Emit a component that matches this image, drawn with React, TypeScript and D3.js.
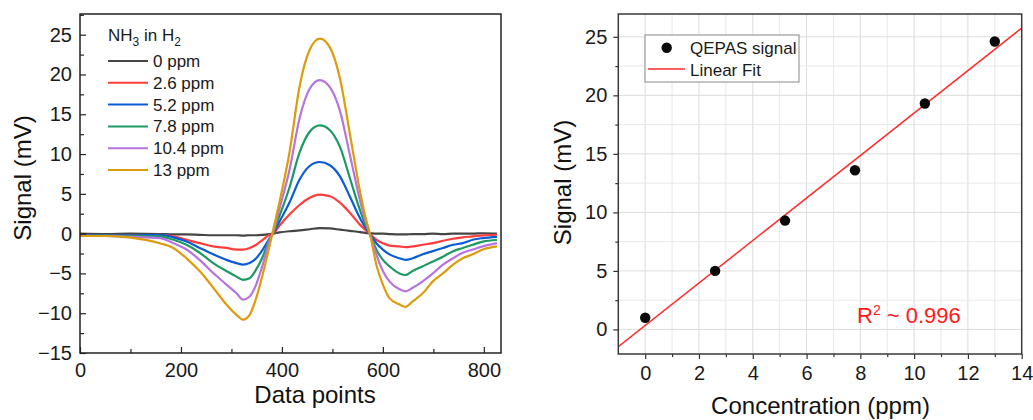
import { useEffect, useRef } from 'react'
import * as d3 from 'd3'

const FONT = '"Liberation Sans", Arial, Helvetica, sans-serif'

// sample positions along the scan (data point index)
const scanPoints = [0, 50, 100, 158, 185, 211, 237, 264, 290, 310, 323, 336, 349, 362, 376, 382, 395, 415, 435, 455, 475, 495, 515, 535, 555, 565, 575, 587, 600, 613, 633, 645, 659, 679, 699, 719, 739, 758, 778, 798, 826]

const sig0 = [0.0, -0.05, 0.0, -0.05, -0.1, -0.1, -0.15, -0.2, -0.2, -0.2, -0.25, -0.2, -0.2, -0.15, -0.05, 0.0, 0.15, 0.3, 0.4, 0.55, 0.7, 0.65, 0.5, 0.35, 0.2, 0.1, 0.05, 0.0, 0.0, -0.05, -0.1, -0.1, -0.05, -0.05, 0.0, -0.05, 0.0, 0.0, 0.0, 0.05, 0.0]
const sig26 = [-0.2, -0.2, -0.2, -0.14, -0.35, -0.77, -1.2, -1.6, -1.8, -2.0, -2.0, -1.8, -1.4, -0.77, -0.14, -0.05, 1.0, 2.4, 3.6, 4.5, 4.9, 4.7, 3.9, 2.6, 1.1, 0.5, -0.1, -0.77, -1.2, -1.5, -1.6, -1.7, -1.6, -1.4, -1.2, -0.9, -0.64, -0.47, -0.35, -0.22, -0.14]
const sig52 = [-0.2, -0.2, -0.2, -0.14, -0.47, -1.0, -1.8, -2.6, -3.3, -3.7, -3.9, -3.7, -3.1, -2.0, -0.56, -0.05, 1.5, 3.9, 6.8, 8.5, 9.0, 8.6, 7.2, 4.6, 1.9, 0.8, -0.1, -1.2, -2.0, -2.6, -3.1, -3.3, -3.1, -2.6, -2.2, -1.8, -1.4, -1.2, -0.77, -0.56, -0.4]
const sig78 = [-0.3, -0.25, -0.3, -0.35, -0.77, -1.4, -2.4, -3.7, -4.7, -5.4, -5.8, -5.6, -4.5, -2.9, -0.56, 0.0, 2.2, 5.8, 10.2, 12.8, 13.6, 13.0, 10.9, 6.9, 2.9, 1.2, -0.15, -2.0, -3.3, -4.1, -5.0, -5.2, -4.7, -4.1, -3.5, -2.9, -2.2, -1.8, -1.4, -1.0, -0.8]
const sig104 = [-0.3, -0.3, -0.4, -0.56, -1.2, -2.0, -3.3, -4.95, -6.4, -7.5, -8.3, -7.9, -6.4, -3.9, -0.8, 0.1, 3.1, 8.0, 14.5, 18.2, 19.3, 18.4, 15.4, 9.8, 4.1, 1.7, -0.2, -2.6, -4.7, -6.0, -7.0, -7.25, -6.8, -6.0, -5.0, -3.9, -3.1, -2.4, -2.0, -1.6, -1.2]
const sig13 = [-0.3, -0.3, -0.5, -1.2, -1.8, -3.1, -4.7, -6.8, -8.9, -10.2, -10.8, -10.2, -8.1, -5.1, -1.4, 0.3, 3.9, 10.2, 18.5, 23.1, 24.5, 23.4, 19.5, 12.4, 5.2, 2.2, -0.2, -3.9, -6.4, -8.1, -8.9, -9.2, -8.5, -7.5, -6.0, -5.0, -3.9, -3.1, -2.6, -2.0, -1.6]

const traceLabels = ['0 ppm', '2.6 ppm', '5.2 ppm', '7.8 ppm', '10.4 ppm', '13 ppm']
const traceColors = ['#454545', '#ff3b3b', '#0a5cd6', '#1c9a62', '#b574e0', '#dc9c0c']
const traces = [sig0, sig26, sig52, sig78, sig104, sig13]

// right panel
const concentration = [0, 2.6, 5.2, 7.8, 10.4, 13]
const qepasSignal = [1.0, 5.0, 9.3, 13.6, 19.3, 24.6]

function styleAxis(ax, color = '#222') {
  ax.select('.domain').remove()
  ax.selectAll('line').attr('stroke', color).attr('stroke-width', 1.2)
  ax.selectAll('text').attr('fill', '#1a1a1a').attr('font-size', 20).attr('font-family', FONT)
}

function ScanPanel() {
  const ref = useRef(null)

  useEffect(() => {
    const g = d3.select(ref.current)
    g.selectAll('*').remove()

    const x = d3.scaleLinear().domain([0, 834]).range([80, 501])
    const y = d3.scaleLinear().domain([-15, 27.6]).range([353, 14])

    // traces
    const line = d3.line().x(d => x(d[0])).y(d => y(d[1])).curve(d3.curveMonotoneX)
    traces.forEach((vals, i) => {
      g.append('path')
        .datum(scanPoints.map((p, k) => [p, vals[k]]))
        .attr('d', line)
        .attr('fill', 'none')
        .attr('stroke', traceColors[i])
        .attr('stroke-width', 2.2)
        .attr('stroke-linejoin', 'round')
    })

    // axes, ticks inward
    g.append('g').attr('transform', 'translate(0,353)')
      .call(d3.axisBottom(x).tickValues([0, 200, 400, 600, 800]).tickSize(-6).tickPadding(10))
      .call(ax => styleAxis(ax))
    g.append('g').attr('transform', 'translate(0,353)')
      .call(d3.axisBottom(x).tickValues([100, 300, 500, 700]).tickSize(-4).tickFormat(() => ''))
      .call(ax => styleAxis(ax))
    g.append('g').attr('transform', 'translate(80,0)')
      .call(d3.axisLeft(y).tickValues(d3.range(-15, 26, 5)).tickSize(-6).tickPadding(8))
      .call(ax => styleAxis(ax))
    g.append('g').attr('transform', 'translate(80,0)')
      .call(d3.axisLeft(y).tickValues(d3.range(-12.5, 27.6, 5)).tickSize(-4).tickFormat(() => ''))
      .call(ax => styleAxis(ax))

    g.append('rect').attr('x', 80).attr('y', 14).attr('width', 421).attr('height', 339)
      .attr('fill', 'none').attr('stroke', '#222').attr('stroke-width', 1.5)

    // legend
    const title = g.append('text').attr('x', 108).attr('y', 41)
      .attr('font-size', 17).attr('font-family', FONT).attr('fill', '#1a1a1a')
    title.append('tspan').text('NH')
    title.append('tspan').text('3').attr('font-size', 12).attr('dy', 5)
    title.append('tspan').text(' in H').attr('dy', -5)
    title.append('tspan').text('2').attr('font-size', 12).attr('dy', 5)

    traceLabels.forEach((lab, i) => {
      const cy = 61 + i * 21.8
      g.append('line').attr('x1', 108).attr('x2', 148).attr('y1', cy).attr('y2', cy)
        .attr('stroke', traceColors[i]).attr('stroke-width', 2)
      g.append('text').attr('x', 153).attr('y', cy + 6)
        .attr('font-size', 17).attr('font-family', FONT).attr('fill', '#1a1a1a')
        .text(lab)
    })

    // axis titles
    g.append('text').attr('x', 315).attr('y', 403).attr('text-anchor', 'middle')
      .attr('font-size', 24).attr('font-family', FONT).attr('fill', '#111')
      .text('Data points')
    g.append('text').attr('transform', 'translate(30.5,178) rotate(-90)').attr('text-anchor', 'middle')
      .attr('font-size', 24).attr('font-family', FONT).attr('fill', '#111')
      .text('Signal (mV)')
  }, [])

  return <g ref={ref} />
}

function CalibrationPanel() {
  const ref = useRef(null)

  useEffect(() => {
    const g = d3.select(ref.current)
    g.selectAll('*').remove()

    const L = 618.3, R = 1021.7, T = 14, B = 354
    const x = d3.scaleLinear().domain([-1, 14]).range([L, R])
    const y = d3.scaleLinear().domain([-2.1, 26.95]).range([B, T])

    // grid
    const gx = d3.range(0, 14.01, 1)
    const gy = d3.range(-2.5, 27, 2.5).filter(v => v > -2.1)
    g.append('g').selectAll('line').data(gx).join('line')
      .attr('x1', d => x(d)).attr('x2', d => x(d)).attr('y1', T).attr('y2', B)
      .attr('stroke', d => d % 2 === 0 ? '#dcdcdc' : '#e8e8e8').attr('stroke-width', 1)
    g.append('g').selectAll('line').data(gy).join('line')
      .attr('x1', L).attr('x2', R).attr('y1', d => y(d)).attr('y2', d => y(d))
      .attr('stroke', d => d % 5 === 0 ? '#dcdcdc' : '#e8e8e8').attr('stroke-width', 1)

    // least-squares fit
    const mx = d3.mean(concentration), my = d3.mean(qepasSignal)
    const sxy = d3.sum(concentration, (c, i) => (c - mx) * (qepasSignal[i] - my))
    const sxx = d3.sum(concentration, c => (c - mx) ** 2)
    const slope = sxy / sxx
    const icpt = my - slope * mx

    g.append('clipPath').attr('id', 'calclip')
      .append('rect').attr('x', L).attr('y', T).attr('width', R - L).attr('height', B - T)
    g.append('path')
      .datum([-1, 14].map(c => [c, icpt + slope * c]))
      .attr('d', d3.line().x(d => x(d[0])).y(d => y(d[1])))
      .attr('clip-path', 'url(#calclip)')
      .attr('fill', 'none').attr('stroke', '#ff2a2a').attr('stroke-width', 1.5)

    g.append('g').selectAll('circle').data(concentration).join('circle')
      .attr('cx', d => x(d)).attr('cy', (d, i) => y(qepasSignal[i])).attr('r', 5.2)
      .attr('fill', '#0a0a0a')

    // axes, ticks outward
    g.append('g').attr('transform', `translate(0,${B})`)
      .call(d3.axisBottom(x).tickValues(d3.range(0, 15, 2)).tickSize(5).tickPadding(7))
      .call(ax => styleAxis(ax, '#333'))
    g.append('g').attr('transform', `translate(0,${B})`)
      .call(d3.axisBottom(x).tickValues(d3.range(1, 14, 2)).tickSize(3).tickFormat(() => ''))
      .call(ax => styleAxis(ax, '#333'))
    g.append('g').attr('transform', `translate(${L},0)`)
      .call(d3.axisLeft(y).tickValues(d3.range(0, 26, 5)).tickSize(5).tickPadding(6))
      .call(ax => styleAxis(ax, '#333'))
    g.append('g').attr('transform', `translate(${L},0)`)
      .call(d3.axisLeft(y).tickValues(d3.range(2.5, 25, 5)).tickSize(3).tickFormat(() => ''))
      .call(ax => styleAxis(ax, '#333'))

    g.append('rect').attr('x', L).attr('y', T).attr('width', R - L).attr('height', B - T)
      .attr('fill', 'none').attr('stroke', '#3a3a3a').attr('stroke-width', 1.5)

    // legend
    g.append('rect').attr('x', 645).attr('y', 35).attr('width', 154).attr('height', 47)
      .attr('fill', '#fff').attr('stroke', '#888').attr('stroke-width', 1)
    g.append('circle').attr('cx', 666.7).attr('cy', 47.7).attr('r', 5.2).attr('fill', '#0a0a0a')
    g.append('text').attr('x', 690).attr('y', 54)
      .attr('font-size', 17).attr('font-family', FONT).attr('fill', '#1a1a1a')
      .text('QEPAS signal')
    g.append('line').attr('x1', 648).attr('x2', 685).attr('y1', 69).attr('y2', 69)
      .attr('stroke', '#ff2a2a').attr('stroke-width', 1.5)
    g.append('text').attr('x', 690).attr('y', 75.5)
      .attr('font-size', 17).attr('font-family', FONT).attr('fill', '#1a1a1a')
      .text('Linear Fit')

    // R² note
    const r2 = g.append('text').attr('x', 857).attr('y', 323)
      .attr('font-size', 22).attr('font-family', FONT).attr('fill', '#ff1a1a')
    r2.append('tspan').text('R')
    r2.append('tspan').text('2').attr('font-size', 14).attr('dy', -8)
    r2.append('tspan').text(' ~ 0.996').attr('dy', 8)

    // axis titles
    g.append('text').attr('x', 820.5).attr('y', 414).attr('text-anchor', 'middle')
      .attr('font-size', 24).attr('font-family', FONT).attr('fill', '#111')
      .text('Concentration (ppm)')
    g.append('text').attr('transform', 'translate(570.5,182.5) rotate(-90)').attr('text-anchor', 'middle')
      .attr('font-size', 24).attr('font-family', FONT).attr('fill', '#111')
      .text('Signal (mV)')
  }, [])

  return <g ref={ref} />
}

export default function App() {
  return (
    <div style={{ position: 'absolute', left: 0, top: 0 }}>
      <svg width={1033} height={420} style={{ display: 'block', background: '#fff' }}>
        <ScanPanel />
        <CalibrationPanel />
      </svg>
    </div>
  )
}
